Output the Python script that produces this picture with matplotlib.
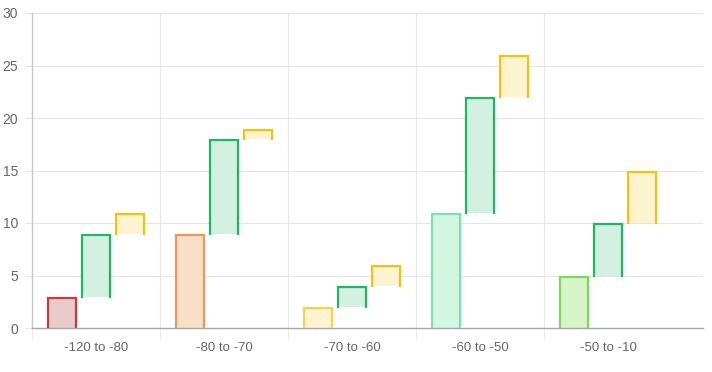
import matplotlib
matplotlib.use("Agg")
import matplotlib.pyplot as plt
import numpy as np

plt.rcParams["font.family"] = ["Liberation Sans", "DejaVu Sans"]

categories = ["-120 to -80", "-80 to -70", "-70 to -60", "-60 to -50", "-50 to -10"]
# floating bars: [start, end] for each of the three series per category
series1_lo = [0, 0, 0, 0, 0]
series1_hi = [3, 9, 2, 11, 5]
series2_lo = [3, 9, 2, 11, 5]
series2_hi = [9, 18, 4, 22, 10]
series3_lo = [9, 18, 4, 22, 10]
series3_hi = [11, 19, 6, 26, 15]

s1_edge = ["#bf3f3f", "#e89a5c", "#f2d250", "#79e3ac", "#7dd95a"]
s1_fill = ["#ebcaca", "#f8dfc7", "#fdf5cf", "#d3f6e3", "#d7f4c9"]
s2_edge = "#22b566"
s2_fill = "#d2f1e1"
s3_edge = "#efc314"
s3_fill = "#fdf3cf"

y_ticks = [0, 5, 10, 15, 20, 25, 30]

fig = plt.figure(figsize=(7.12, 3.72), dpi=100)
ax = fig.add_axes([32/712, 44/372, (703-32)/712, (328-13)/372])

x = np.arange(len(categories))
offset = 0.266
width = 0.232

def draw(xs, lo, hi, fills, edges):
    for xi, l, h, fc, ec in zip(xs, lo, hi, fills, edges):
        ax.bar(xi, h - l, bottom=l, width=width, color=fc, edgecolor="none", zorder=2)
        inset_x = 0.006
        inset_y = 0.1
        xl = xi - width/2 + inset_x
        xr = xi + width/2 - inset_x
        ax.plot([xl, xl, xr, xr], [l, h - inset_y, h - inset_y, l], color=ec,
                lw=1.6, solid_joinstyle="miter", zorder=3)

draw(x - offset, series1_lo, series1_hi, s1_fill, s1_edge)
draw(x, series2_lo, series2_hi, [s2_fill]*5, [s2_edge]*5)
draw(x + offset, series3_lo, series3_hi, [s3_fill]*5, [s3_edge]*5)

ax.set_xlim(-0.5, 4.5 + 31/128)
ax.set_ylim(0, 30)
ax.set_yticks(y_ticks)
ax.set_yticklabels([str(t) for t in y_ticks])
ax.set_xticks(x)
ax.set_xticklabels(categories)
ax.set_xticks(np.arange(len(categories)) - 0.5, minor=True)

for s in ["top", "right"]:
    ax.spines[s].set_visible(False)
ax.spines["left"].set_color("#c8c8c8")
ax.spines["left"].set_linewidth(1.0)
ax.spines["bottom"].set_color("#a8a8a8")
ax.spines["bottom"].set_linewidth(1.0)

for t in y_ticks[1:]:
    ax.axhline(t, color="#e5e5e5", lw=0.8, zorder=0)
for b in np.arange(len(categories) - 1) + 0.5:
    ax.axvline(b, color="#e8e8e8", lw=0.8, zorder=0)

ax.tick_params(axis="y", length=5, color="#e5e5e5", labelsize=10, labelcolor="#666666", pad=5)
ax.tick_params(axis="x", which="major", length=0, labelsize=9.5, labelcolor="#666666", pad=10)
ax.tick_params(axis="x", which="minor", length=8, color="#e5e5e5")

fig.savefig("out.png", dpi=100, facecolor="white")
